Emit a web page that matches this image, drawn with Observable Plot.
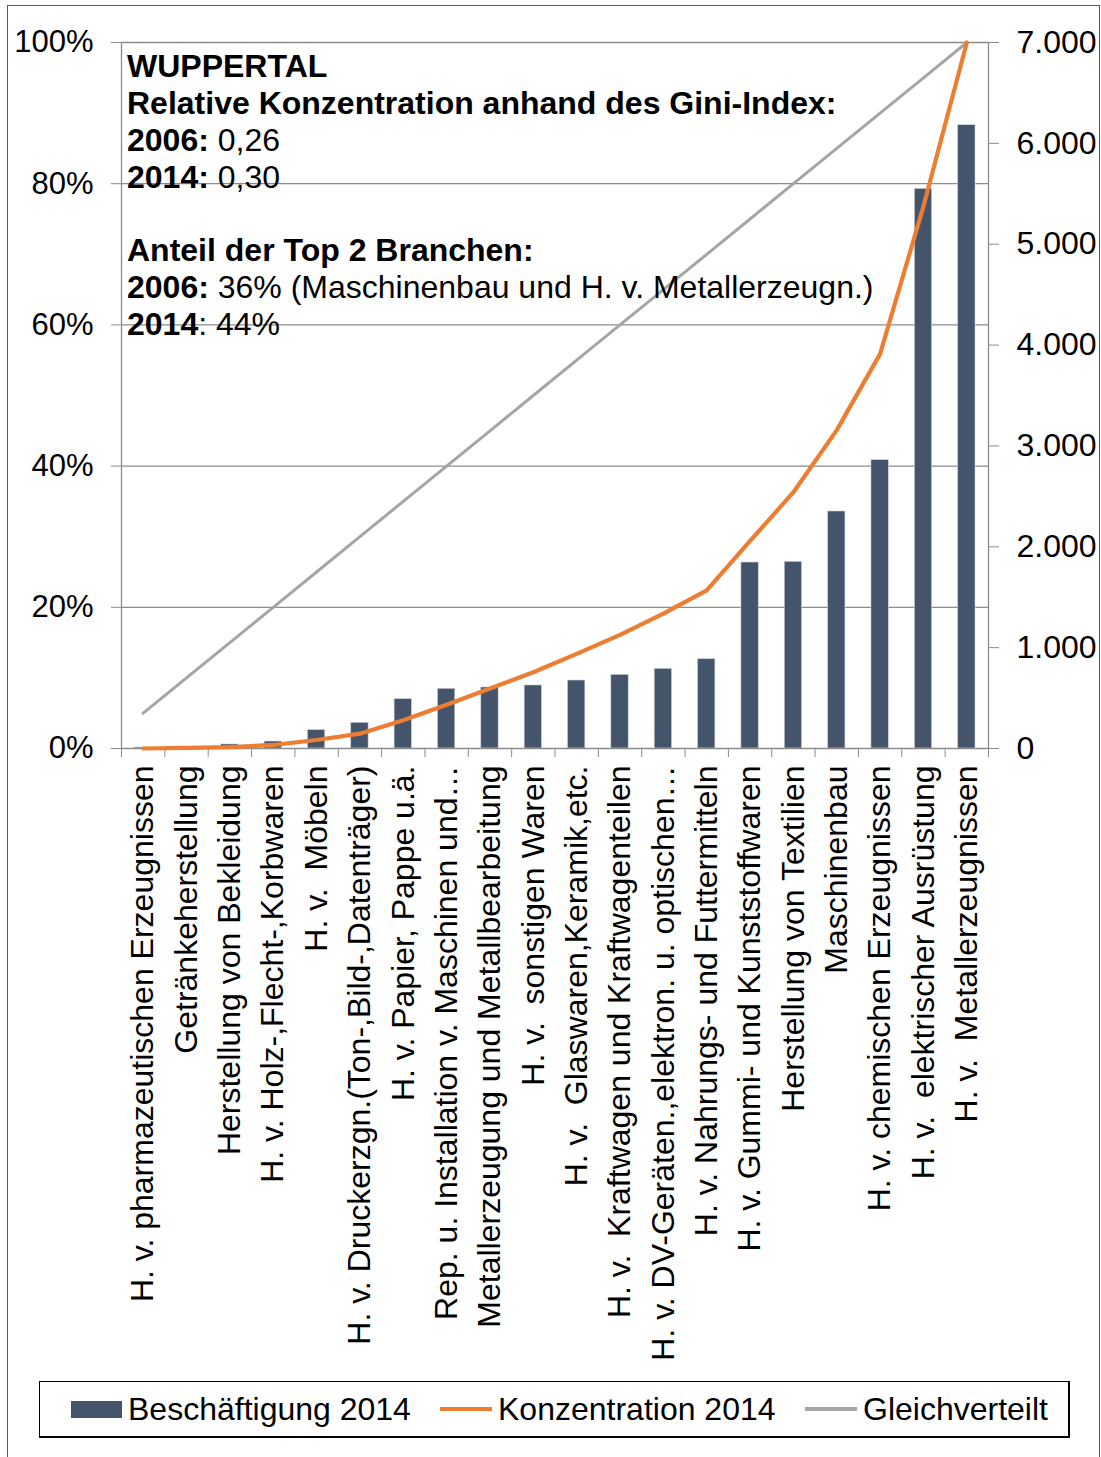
<!DOCTYPE html>
<html>
<head>
<meta charset="utf-8">
<script src="https://cdn.jsdelivr.net/npm/d3@7"></script>
<script src="https://cdn.jsdelivr.net/npm/@observablehq/plot@0.6"></script>
<style>
html, body { margin: 0; padding: 0; background: #fff; }
#wrap { position: relative; width: 1101px; height: 1457px; overflow: hidden; font-family: "Liberation Sans", Arial, sans-serif; }
#frame { position: absolute; left: 7px; top: 5px; width: 1093px; height: 1520px; border: 1.5px solid #595959; box-sizing: border-box; }
#chart { position: absolute; left: 0; top: 0; }
#chart svg text { white-space: pre; }
#legend { position: absolute; left: 39px; top: 1381px; width: 1031px; height: 57px; border: 1.5px solid #000; border-right-width: 2px; border-bottom-width: 2.5px; box-sizing: border-box; font-size: 32px; color: #000; }
.item { position: absolute; top: 0; height: 100%; display: flex; align-items: center; white-space: nowrap; }
.sw { display: inline-block; margin-right: 6px; }
</style>
</head>
<body>
<div id="wrap">
  <div id="frame"></div>
  <div id="chart"></div>
  <div id="legend"></div>
</div>
<script>
// ---- data ----
const categories = [
  "H. v. pharmazeutischen Erzeugnissen",
  "Getränkeherstellung",
  "Herstellung von Bekleidung",
  "H. v. Holz-,Flecht-,Korbwaren",
  "H. v.  Möbeln",
  "H. v. Druckerzgn.(Ton-,Bild-,Datenträger)",
  "H. v. Papier, Pappe u.ä.",
  "Rep. u. Installation v. Maschinen und…",
  "Metallerzeugung und Metallbearbeitung",
  "H. v.  sonstigen Waren",
  "H. v.  Glaswaren,Keramik,etc.",
  "H. v.  Kraftwagen und Kraftwagenteilen",
  "H. v. DV-Geräten.,elektron. u. optischen…",
  "H. v. Nahrungs- und Futtermitteln",
  "H. v. Gummi- und Kunststoffwaren",
  "Herstellung von Textilien",
  "Maschinenbau",
  "H. v. chemischen Erzeugnissen",
  "H. v.  elektrischer Ausrüstung",
  "H. v.  Metallerzeugnissen"
];
// Beschäftigung 2014 (right axis, persons)
const employment = [10, 15, 40, 69, 182, 255, 489, 592, 605, 625, 674, 730, 790, 885, 1844, 1851, 2350, 2859, 5549, 6180];
// Konzentration 2014 (left axis, %)
const concentration = [0.0, 0.1, 0.2, 0.5, 1.2, 2.1, 4.0, 6.2, 8.5, 10.8, 13.4, 16.1, 19.1, 22.4, 29.4, 36.3, 45.1, 55.9, 76.8, 100];
// Gleichverteilt (left axis, %)
const evenShare = [5, 10, 15, 20, 25, 30, 35, 40, 45, 50, 55, 60, 65, 70, 75, 80, 85, 90, 95, 100];
// axis ticks
const leftTicks = [0, 20, 40, 60, 80, 100];          // percent
const rightTicks = [0, 1000, 2000, 3000, 4000, 5000, 6000, 7000]; // persons
const rightMax = 7000;   // right axis top = 100 % on left axis
// annotation text
const noteLines = [
  [["WUPPERTAL", true]],
  [["Relative Konzentration anhand des Gini-Index:", true]],
  [["2006:", true], [" 0,26", false]],
  [["2014:", true], [" 0,30", false]],
  [["Anteil der Top 2 Branchen:", true]],
  [["2006:", true], [" 36% (Maschinenbau und H. v. Metallerzeugn.)", false]],
  [["2014", true], [": 44%", false]]
];
const noteBaselines = [77, 114, 151, 188, 261, 298, 335];
const legendItems = [
  {label: "Beschäftigung 2014", kind: "bar", color: "#44546A", left: 31},
  {label: "Konzentration 2014", kind: "line", color: "#ED7D31", left: 400},
  {label: "Gleichverteilt", kind: "line", color: "#A5A5A5", left: 765}
];

// ---- build ----
const pctToY = rightMax / 100;
const data = categories.map((c, i) => ({
  i, cat: c, emp: employment[i], conc: concentration[i], even: evenShare[i]
}));
const grid = "#8c8c8c";
const bounds = d3.range(0, categories.length + 1);
const fmtThousands = d3.formatLocale({decimal: ",", thousands: ".", grouping: [3], currency: ["", "€"]}).format(",");

const W = 1101, H = 1375;
const chart = Plot.plot({
  width: W, height: H,
  marginLeft: 121, marginRight: W - 988, marginTop: 42, marginBottom: H - 748,
  x: {type: "linear", domain: [0, categories.length]},
  y: {domain: [0, rightMax]},
  style: {fontFamily: '"Liberation Sans", Arial, sans-serif', fontSize: "32px", color: "#000", background: "transparent"},
  marks: [
    Plot.ruleY(leftTicks.filter(d => d > 0), {y: d => d * pctToY, stroke: grid, strokeWidth: 1.3}),
    Plot.rectY(data, {x1: "i", x2: d => d.i + 1, y: "emp", fill: "#44546A", stroke: "#cfd4da", strokeWidth: 0.6, insetLeft: 13, insetRight: 13}),
    Plot.ruleY([0], {stroke: grid, strokeWidth: 1.3}),
    Plot.ruleX([0, categories.length], {stroke: grid, strokeWidth: 1.3}),
    Plot.axisY(leftTicks.map(d => d * pctToY), {anchor: "left", tickSize: 10, tickPadding: 18, stroke: grid, fill: "#000", fontSize: 31, tickFormat: d => Math.round(d / pctToY) + "%", label: null}),
    Plot.axisY(rightTicks, {anchor: "right", tickSize: 10, tickPadding: 18, stroke: grid, fill: "#000", fontSize: 32, tickFormat: d => fmtThousands(d), label: null}),
    Plot.axisX(bounds, {anchor: "bottom", tickSize: 9, tickPadding: 0, stroke: grid, tickFormat: () => "", label: null}),
    Plot.line(data, {x: d => d.i + 0.5, y: d => d.even * pctToY, stroke: "#A5A5A5", strokeWidth: 3}),
    Plot.line(data, {x: d => d.i + 0.5, y: d => d.conc * pctToY, stroke: "#ED7D31", strokeWidth: 4.2}),
    Plot.text(data, {x: d => d.i + 0.5, frameAnchor: "bottom", text: "cat", rotate: -90, textAnchor: "end", lineAnchor: "middle", dy: 17, fontSize: 32, fill: "#000"})
  ]
});
document.getElementById("chart").appendChild(chart);

// annotation inside plot area
const svg = d3.select(chart.tagName.toLowerCase() === "svg" ? chart : chart.querySelector("svg"));
const note = svg.append("g").attr("font-size", 32).attr("fill", "#000").attr("text-anchor", "start");
noteLines.forEach((parts, k) => {
  const t = note.append("text").attr("x", 127).attr("y", noteBaselines[k]).attr("text-anchor", "start").style("white-space", "pre");
  parts.forEach(([s, bold]) => t.append("tspan").attr("font-weight", bold ? "bold" : "normal").text(s));
});

// legend
const lg = d3.select("#legend");
legendItems.forEach(it => {
  const d = lg.append("div").attr("class", "item").style("left", it.left + "px");
  if (it.kind === "bar") {
    d.append("span").attr("class", "sw").style("width", "51px").style("height", "17px").style("background", it.color);
  } else {
    d.append("span").attr("class", "sw").style("width", "52px").style("height", it.color === "#ED7D31" ? "4.5px" : "3.5px").style("background", it.color);
  }
  d.append("span").text(it.label);
});
</script>
</body>
</html>
